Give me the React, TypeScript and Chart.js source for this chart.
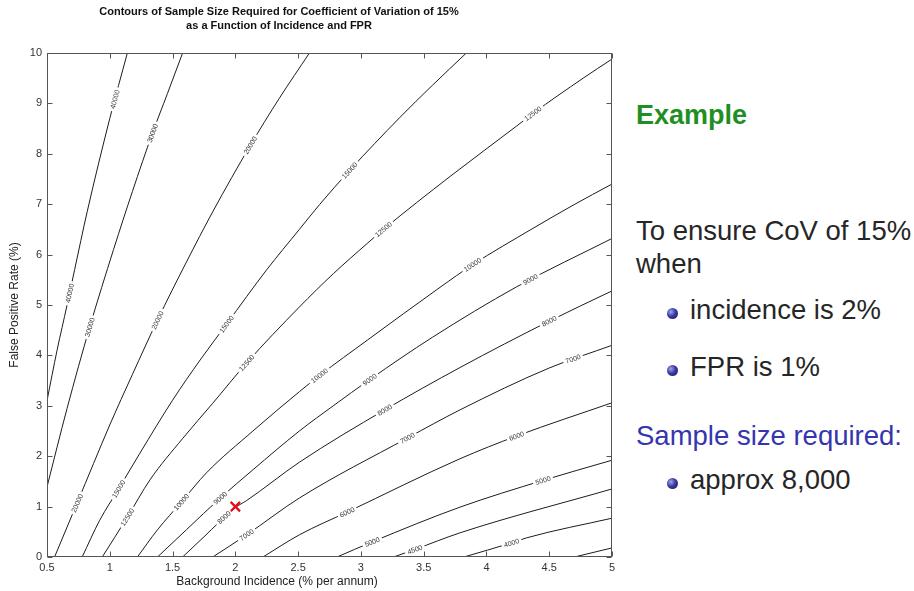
import React, { useEffect, useRef } from "react";
import { Chart, registerables } from "chart.js";

Chart.register(...registerables);

// ---- data ----
// x = background incidence (% per annum), y = false positive rate (%)
const c40000 = [[0.5, 3.1], [0.58, 4.1], [0.66, 5.0], [0.72, 5.7], [0.82, 6.85], [1.0, 8.7], [1.14, 10]];
const c30000 = [[0.5, 1.39], [0.66, 2.95], [0.84, 4.56], [1.03, 6.1], [1.18, 7.25], [1.34, 8.41], [1.46, 9.2], [1.58, 10]];
const c20000 = [[0.56, 0], [0.74, 1.07], [1.0, 2.62], [1.18, 3.62], [1.38, 4.7], [1.61, 5.85], [1.82, 6.85], [2.12, 8.17], [2.35, 9.1], [2.59, 10]];
const c15000 = [[0.78, 0], [0.92, 0.73], [1.07, 1.35], [1.24, 2.06], [1.5, 3.11], [1.72, 3.91], [1.93, 4.62], [2.25, 5.7], [2.51, 6.5], [2.67, 6.99], [2.91, 7.67], [3.31, 8.72], [3.57, 9.36], [3.84, 10]];
const c12500 = [[0.94, 0], [1.14, 0.79], [1.32, 1.53], [1.58, 2.35], [1.82, 3.05], [2.09, 3.85], [2.51, 4.96], [2.78, 5.62], [3.05, 6.22], [3.18, 6.5], [3.71, 7.55], [4.24, 8.55], [4.37, 8.8], [4.77, 9.5], [5, 9.88]];
const c10000 = [[1.22, 0], [1.38, 0.54], [1.57, 1.09], [1.77, 1.67], [2.14, 2.5], [2.51, 3.28], [2.67, 3.6], [3.05, 4.3], [3.63, 5.35], [3.89, 5.8], [4.37, 6.52], [4.69, 6.98], [5, 7.4]];
const c9000 = [[1.38, 0], [1.61, 0.54], [1.88, 1.17], [2.14, 1.73], [2.51, 2.5], [2.78, 3.0], [3.07, 3.52], [3.57, 4.36], [4.24, 5.36], [5, 6.32]];
const c8000 = [[1.58, 0], [1.75, 0.4], [2.0, 0.98], [2.09, 1.12], [2.51, 1.88], [3.19, 2.92], [3.79, 3.76], [4.5, 4.68], [5, 5.28]];
const c7000 = [[1.82, 0], [2.09, 0.44], [2.51, 1.17], [3.37, 2.36], [3.79, 2.92], [4.5, 3.75], [5, 4.2]];
const c6000 = [[2.22, 0], [2.51, 0.44], [2.89, 0.89], [3.79, 1.95], [4.24, 2.4], [5, 3.06]];
const c5000 = [[2.81, 0], [3.09, 0.3], [3.79, 0.99], [4.45, 1.52], [5, 1.92]];
const c4500 = [[3.26, 0], [3.43, 0.15], [3.79, 0.48], [5, 1.35]];
const c4000 = [[3.82, 0], [4.2, 0.28], [4.32, 0.38], [5, 0.77]];
const c3500 = [[4.7, 0], [5, 0.18]];

const contourLevels = ["40000", "30000", "20000", "15000", "12500", "10000", "9000", "8000", "7000", "6000", "5000", "4500", "4000", "3500"];
const contourLines = [c40000, c30000, c20000, c15000, c12500, c10000, c9000, c8000, c7000, c6000, c5000, c4500, c4000, c3500];

// incidence values where each contour carries its in-line label
const labelsAt40000 = [0.68, 1.04];
const labelsAt30000 = [0.84, 1.34];
const labelsAt20000 = [0.74, 1.38, 2.12];
const labelsAt15000 = [1.07, 1.93, 2.91];
const labelsAt12500 = [1.14, 2.09, 3.18, 4.37];
const labelsAt10000 = [1.57, 2.67, 3.89];
const labelsAt9000 = [1.88, 3.07, 4.35];
const labelsAt8000 = [1.91, 3.19, 4.5];
const labelsAt7000 = [2.09, 3.37, 4.69];
const labelsAt6000 = [2.89, 4.24];
const labelsAt5000 = [3.09, 4.45];
const labelsAt4500 = [3.43];
const labelsAt4000 = [4.2];
const labelsAt3500: number[] = [];
const contourLabelXs = [labelsAt40000, labelsAt30000, labelsAt20000, labelsAt15000, labelsAt12500, labelsAt10000, labelsAt9000, labelsAt8000, labelsAt7000, labelsAt6000, labelsAt5000, labelsAt4500, labelsAt4000, labelsAt3500];

const exampleIncidence = [2];
const exampleFpr = [1];

const titleLines = [
  "Contours of Sample Size Required for Coefficient of Variation of 15%",
  "as a Function of Incidence and FPR",
];
const xTitle = "Background Incidence (% per annum)";
const yTitle = "False Positive Rate (%)";

const FONT = '"Liberation Sans", Arial, Helvetica, sans-serif';

function bez(p0: number, c1: number, c2: number, p1: number, t: number) {
  const u = 1 - t;
  return u * u * u * p0 + 3 * u * u * t * c1 + 3 * u * t * t * c2 + t * t * t * p1;
}
function bezD(p0: number, c1: number, c2: number, p1: number, t: number) {
  const u = 1 - t;
  return 3 * u * u * (c1 - p0) + 6 * u * t * (c2 - c1) + 3 * t * t * (p1 - c2);
}

const contourLabelPlugin = {
  id: "contourLabels",
  afterDatasetsDraw(chart: any) {
    const ctx = chart.ctx;
    const xs = chart.scales.x;
    ctx.save();
    ctx.font = `7px ${FONT}`;
    ctx.textAlign = "center";
    ctx.textBaseline = "middle";
    chart.data.datasets.forEach((ds: any, i: number) => {
      if (!ds.labelXs) return;
      const pts = chart.getDatasetMeta(i).data;
      ds.labelXs.forEach((lx: number) => {
        const px = xs.getPixelForValue(lx);
        for (let j = 0; j < pts.length - 1; j++) {
          const a = pts[j], b = pts[j + 1];
          if (px < a.x || px > b.x) continue;
          const c1x = a.cp2x ?? a.x, c1y = a.cp2y ?? a.y;
          const c2x = b.cp1x ?? b.x, c2y = b.cp1y ?? b.y;
          let lo = 0, hi = 1;
          for (let k = 0; k < 40; k++) {
            const m = (lo + hi) / 2;
            if (bez(a.x, c1x, c2x, b.x, m) < px) lo = m; else hi = m;
          }
          const t = (lo + hi) / 2;
          const py = bez(a.y, c1y, c2y, b.y, t);
          const ang = Math.atan2(bezD(a.y, c1y, c2y, b.y, t), bezD(a.x, c1x, c2x, b.x, t));
          const w = ctx.measureText(ds.contourLabel).width;
          ctx.save();
          ctx.translate(px, py);
          ctx.rotate(ang);
          ctx.fillStyle = "#ffffff";
          ctx.fillRect(-w / 2 - 2.5, -4.5, w + 5, 9);
          ctx.fillStyle = "#333333";
          ctx.fillText(ds.contourLabel, 0, 0.5);
          ctx.restore();
          break;
        }
      });
    });
    // marker on top of the labels
    chart.data.datasets.forEach((ds: any, i: number) => {
      if (ds.isMarker) chart.getDatasetMeta(i).data.forEach((el: any) => el.draw(ctx, chart.chartArea));
    });
    ctx.restore();
  },
};

const framePlugin = {
  id: "frameAndTitles",
  afterDraw(chart: any) {
    const ctx = chart.ctx;
    const { left, right, top, bottom } = chart.chartArea;
    const L = Math.round(left) + 0.5, R = Math.round(right) - 0.5;
    const T = Math.round(top) + 0.5, B = Math.round(bottom) - 0.5;
    ctx.save();
    ctx.strokeStyle = "#555555";
    ctx.lineWidth = 1;
    ctx.strokeRect(L, T, R - L, B - T);
    ctx.beginPath();
    chart.scales.x.ticks.forEach((tk: any) => {
      const p = Math.round(chart.scales.x.getPixelForValue(tk.value)) + 0.5;
      ctx.moveTo(p, B); ctx.lineTo(p, B - 5);
      ctx.moveTo(p, T); ctx.lineTo(p, T + 5);
    });
    chart.scales.y.ticks.forEach((tk: any) => {
      const p = Math.round(chart.scales.y.getPixelForValue(tk.value)) + 0.5;
      ctx.moveTo(L, p); ctx.lineTo(L + 5, p);
      ctx.moveTo(R, p); ctx.lineTo(R - 5, p);
    });
    ctx.stroke();

    ctx.fillStyle = "#111111";
    ctx.textAlign = "center";
    ctx.textBaseline = "middle";
    ctx.font = `bold 11px ${FONT}`;
    ctx.fillText(titleLines[0], 279, 12);
    ctx.fillText(titleLines[1], 279, 26);

    ctx.font = `12px ${FONT}`;
    ctx.fillStyle = "#222222";
    ctx.fillText(xTitle, 277, 582);
    ctx.save();
    ctx.translate(15, (top + bottom) / 2);
    ctx.rotate(-Math.PI / 2);
    ctx.fillText(yTitle, 0, 0);
    ctx.restore();
    ctx.restore();
  },
};

function ContourChart() {
  const ref = useRef<HTMLCanvasElement | null>(null);
  useEffect(() => {
    if (!ref.current) return;
    const datasets: any[] = contourLines.map((line, i) => ({
      label: contourLevels[i],
      contourLabel: contourLevels[i],
      labelXs: contourLabelXs[i],
      data: line.map(([x, y]) => ({ x, y })),
      showLine: true,
      borderColor: "#1c1c1c",
      borderWidth: 1,
      pointRadius: 0,
      cubicInterpolationMode: "monotone",
      fill: false,
    }));
    datasets.push({
      label: "example",
      isMarker: true,
      data: exampleIncidence.map((x, i) => ({ x, y: exampleFpr[i] })),
      showLine: false,
      pointStyle: "crossRot",
      pointRadius: 6.5,
      pointBorderWidth: 2,
      pointBorderColor: "#e3121b",
      pointBackgroundColor: "#e3121b",
    });
    const tickFont = { family: FONT, size: 11 };
    const chart = new Chart(ref.current, {
      type: "scatter",
      data: { datasets },
      options: {
        animation: false,
        responsive: false,
        events: [],
        layout: { padding: { top: 53, right: 18, left: 0, bottom: 0 } },
        plugins: { legend: { display: false }, tooltip: { enabled: false }, title: { display: false } },
        scales: {
          x: {
            type: "linear",
            min: 0.5,
            max: 5,
            ticks: { stepSize: 0.5, autoSkip: false, maxRotation: 0, padding: 4, color: "#333", font: tickFont, callback: (v: any) => String(Number(v)) },
            grid: { display: false, drawTicks: false },
            border: { display: false },
            afterFit: (s: any) => { s.height = 34; },
          },
          y: {
            type: "linear",
            min: 0,
            max: 10,
            ticks: { stepSize: 1, autoSkip: false, padding: 5, color: "#333", font: tickFont, callback: (v: any) => String(Number(v)) },
            grid: { display: false, drawTicks: false },
            border: { display: false },
            afterFit: (s: any) => { s.width = 47; },
          },
        },
      } as any,
      plugins: [contourLabelPlugin, framePlugin],
    });
    return () => chart.destroy();
  }, []);
  return <canvas ref={ref} width={630} height={591} style={{ position: "absolute", left: 0, top: 0, width: 630, height: 591 }} />;
}

const ball: React.CSSProperties = {
  position: "absolute",
  left: 667,
  width: 11,
  height: 11,
  borderRadius: "50%",
  background: "radial-gradient(circle at 35% 35%, #a0a6ee 0%, #3a3aa0 45%, #15155a 100%)",
};

const txt = (top: number, left: number, extra: React.CSSProperties = {}): React.CSSProperties => ({
  position: "absolute",
  top,
  left,
  fontFamily: FONT,
  fontSize: 27.5,
  lineHeight: "32px",
  whiteSpace: "nowrap",
  color: "#262626",
  ...extra,
});

export default function App() {
  return (
    <div style={{ position: "absolute", left: 0, top: 0, width: 914, height: 591, background: "#fff", overflow: "hidden" }}>
      <ContourChart />
      <div style={txt(99, 636, { fontWeight: "bold", color: "#1f8f25", fontSize: 27 })}>Example</div>
      <div style={txt(215, 636)}>To ensure CoV of 15%</div>
      <div style={txt(248, 636)}>when</div>
      <div style={{ ...ball, top: 308 }} />
      <div style={txt(294, 690)}>incidence is 2%</div>
      <div style={{ ...ball, top: 365 }} />
      <div style={txt(351, 690)}>FPR is 1%</div>
      <div style={txt(420, 636, { color: "#3535b0" })}>Sample size required:</div>
      <div style={{ ...ball, top: 478 }} />
      <div style={txt(464, 690)}>approx 8,000</div>
    </div>
  );
}
